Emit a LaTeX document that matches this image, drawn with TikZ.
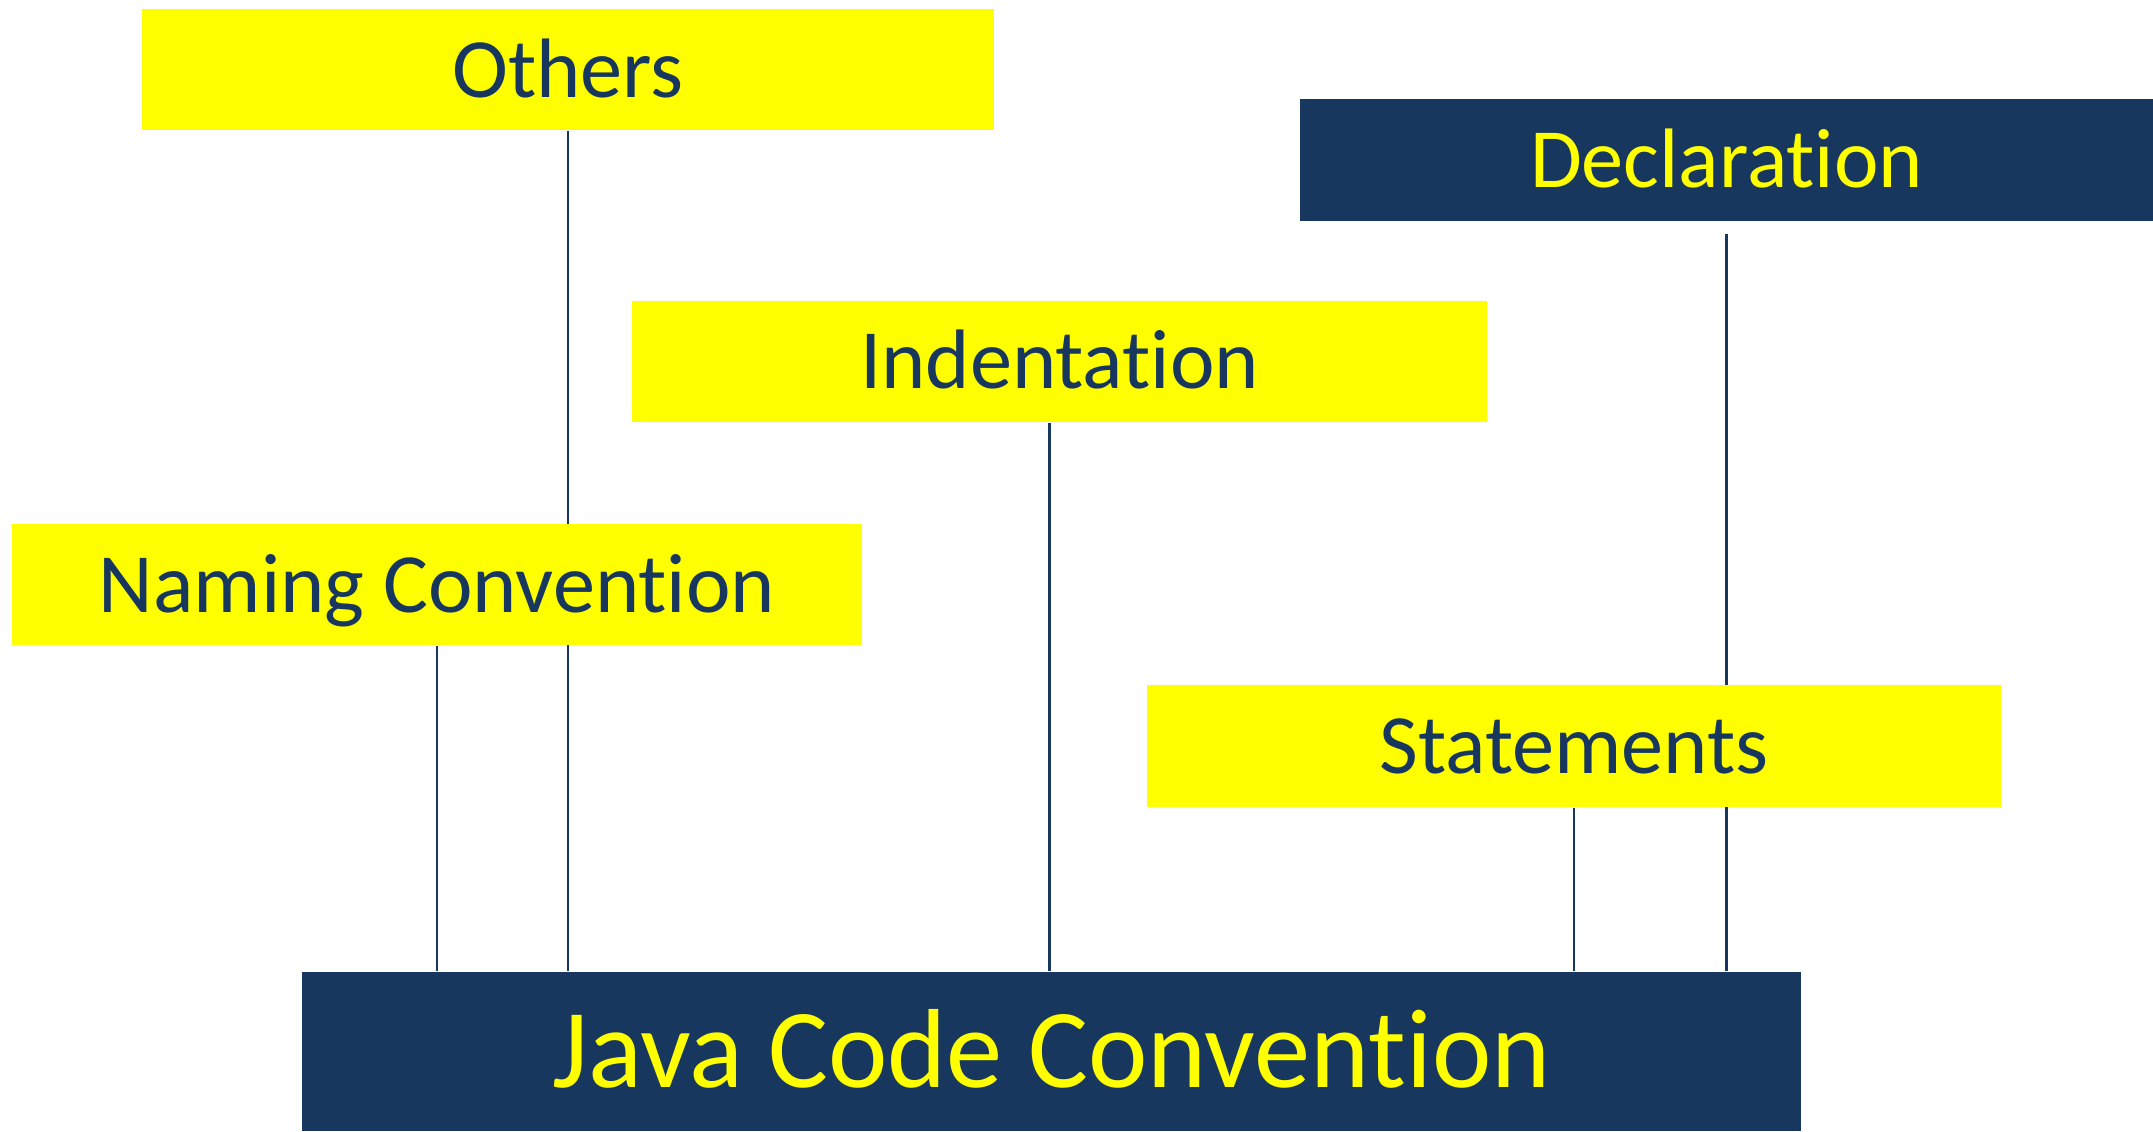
\documentclass[tikz,border=0pt]{standalone}
\usepackage{fontspec}
\setmainfont{Carlito}[Ligatures=NoCommon]
\usepackage{tikz}
\usetikzlibrary{backgrounds}
\usepackage{xcolor}
\definecolor{navy}{RGB}{23,55,94}
\definecolor{hiyellow}{RGB}{255,255,0}

\begin{document}
\begin{tikzpicture}[
    topicnode/.style={rectangle, fill=hiyellow, text=navy, minimum width=8.52cm, minimum height=1.21cm, inner sep=0pt, text height=15.5pt, text depth=0pt, font=\fontsize{24}{28}\selectfont},
    darknode/.style={topicnode, fill=navy, text=hiyellow},
    link/.style={draw=navy, line width=0.6pt}
]
\useasboundingbox (0,0) rectangle (21.53,11.31);
\node[topicnode] (others) at (5.68,10.61) {Others};
\node[darknode, minimum width=8.53cm, minimum height=1.22cm] (decl) at (17.265,9.71) {Declaration};
\node[topicnode, minimum width=8.55cm] (indent) at (10.595,7.695) {Indentation};
\node[topicnode, minimum width=8.50cm] (naming) at (4.37,5.46) {Naming Convention};
\node[topicnode, minimum width=8.54cm, minimum height=1.22cm] (stmt) at (15.74,3.85) {Statements};
\node[darknode, minimum width=14.99cm, minimum height=1.59cm, text height=20.6pt, font=\fontsize{32}{38}\selectfont] (java) at (10.515,0.795) {Java Code Convention};

\begin{pgfonlayer}{background}
\draw[link] (others.south) -- (others.south |- java.north);
\draw[link] (naming.south) -- (naming.south |- java.north);
\draw[link] ([xshift=-0.1cm]indent.south) -- ([xshift=-0.1cm]indent.south |- java.north);
\draw[link] (stmt.south) -- (stmt.south |- java.north);
\draw[link] ([yshift=-0.12cm]decl.south) -- (decl.south |- java.north);
\end{pgfonlayer}
\end{tikzpicture}
\end{document}
